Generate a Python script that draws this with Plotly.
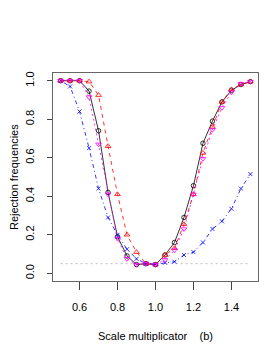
import plotly.graph_objects as go

scale = [0.50, 0.55, 0.60, 0.65, 0.70, 0.75, 0.80, 0.85, 0.90, 0.95, 1.00,
         1.05, 1.10, 1.15, 1.20, 1.25, 1.30, 1.35, 1.40, 1.45, 1.50]

black_vals = [1.0, 1.0, 1.0, 0.946, 0.74, 0.42, 0.19, 0.09, 0.045, 0.05, 0.045,
              0.095, 0.16, 0.29, 0.455, 0.675, 0.79, 0.89, 0.95, 0.98, 0.995]
red_vals = [1.0, 1.0, 1.0, 0.995, 0.925, 0.66, 0.41, 0.20, 0.11, 0.05, 0.045,
            0.095, 0.13, 0.255, 0.41, 0.625, 0.76, 0.89, 0.955, 0.98, 0.995]
blue_vals = [1.0, 0.97, 0.84, 0.65, 0.44, 0.29, 0.20, 0.125, 0.075, 0.05, 0.047,
             0.055, 0.06, 0.095, 0.11, 0.16, 0.23, 0.27, 0.335, 0.44, 0.515]
magenta_vals = [1.0, 1.0, 1.0, 0.915, 0.67, 0.41, 0.18, 0.075, 0.045, 0.05, 0.045,
                0.07, 0.12, 0.23, 0.41, 0.595, 0.745, 0.86, 0.94, 0.985, 0.995]

level = 0.05
x_ticks = [0.6, 0.8, 1.0, 1.2, 1.4]
x_tick_labels = ["0.6", "0.8", "1.0", "1.2", "1.4"]
y_ticks = [0.0, 0.2, 0.4, 0.6, 0.8, 1.0]
y_tick_labels = ["0.0", "0.2", "0.4", "0.6", "0.8", "1.0"]

FONT = "Liberation Sans, Arial, sans-serif"

fig = go.Figure()

# reference level line
fig.add_trace(go.Scatter(x=[scale[0], scale[-1]], y=[level, level], mode="lines",
                         line=dict(color="#BEBEBE", width=1, dash="2px,3px"),
                         hoverinfo="skip", showlegend=False))

series = [
    (black_vals, "#000000", "solid", "circle-open", 4.5),
    (red_vals, "#FF0000", "4px,4px", "triangle-up-open", 5),
    (blue_vals, "#0000FF", "1px,3px,4px,3px", "x-thin-open", 4),
    (magenta_vals, "#FF00FF", "2px,3px", "triangle-down-open", 5),
]
for vals, col, dash, sym, sz in series:
    fig.add_trace(go.Scatter(
        x=scale, y=vals, mode="lines+markers",
        line=dict(color=col, width=0.8, dash=dash),
        marker=dict(symbol=sym, size=sz, color=col, line=dict(color=col, width=0.8)),
        showlegend=False))

fig.update_layout(
    width=274, height=354,
    margin=dict(l=45, r=24, t=65, b=81),
    paper_bgcolor="white", plot_bgcolor="white",
    font=dict(family=FONT, size=11, color="#000000"),
    xaxis=dict(range=[0.46, 1.54], tickvals=x_ticks, ticktext=x_tick_labels,
               ticks="outside", ticklen=8, tickwidth=1, tickcolor="#444",
               showline=True, linecolor="#666", linewidth=1, mirror=True,
               showgrid=False, zeroline=False, ticklabelstandoff=8,
               tickfont=dict(family=FONT, size=11)),
    yaxis=dict(range=[-0.04, 1.04], tickvals=y_ticks, ticktext=y_tick_labels,
               ticks="outside", ticklen=5, tickwidth=1, tickcolor="#444",
               showline=True, linecolor="#666", linewidth=1, mirror=True,
               showgrid=False, zeroline=False, tickangle=-90, ticklabelstandoff=9,
               tickfont=dict(family=FONT, size=11)),
    annotations=[
        dict(text="Scale multiplicator    (b)", xref="paper", yref="paper",
             x=0.5, y=-0.265, xanchor="center", yanchor="middle", showarrow=False,
             font=dict(family=FONT, size=11)),
        dict(text="Rejection frequencies", xref="paper", yref="paper",
             x=-0.19, y=0.5, xanchor="center", yanchor="middle", showarrow=False,
             textangle=-90, font=dict(family=FONT, size=11)),
    ],
)

fig.write_html("out.html")
